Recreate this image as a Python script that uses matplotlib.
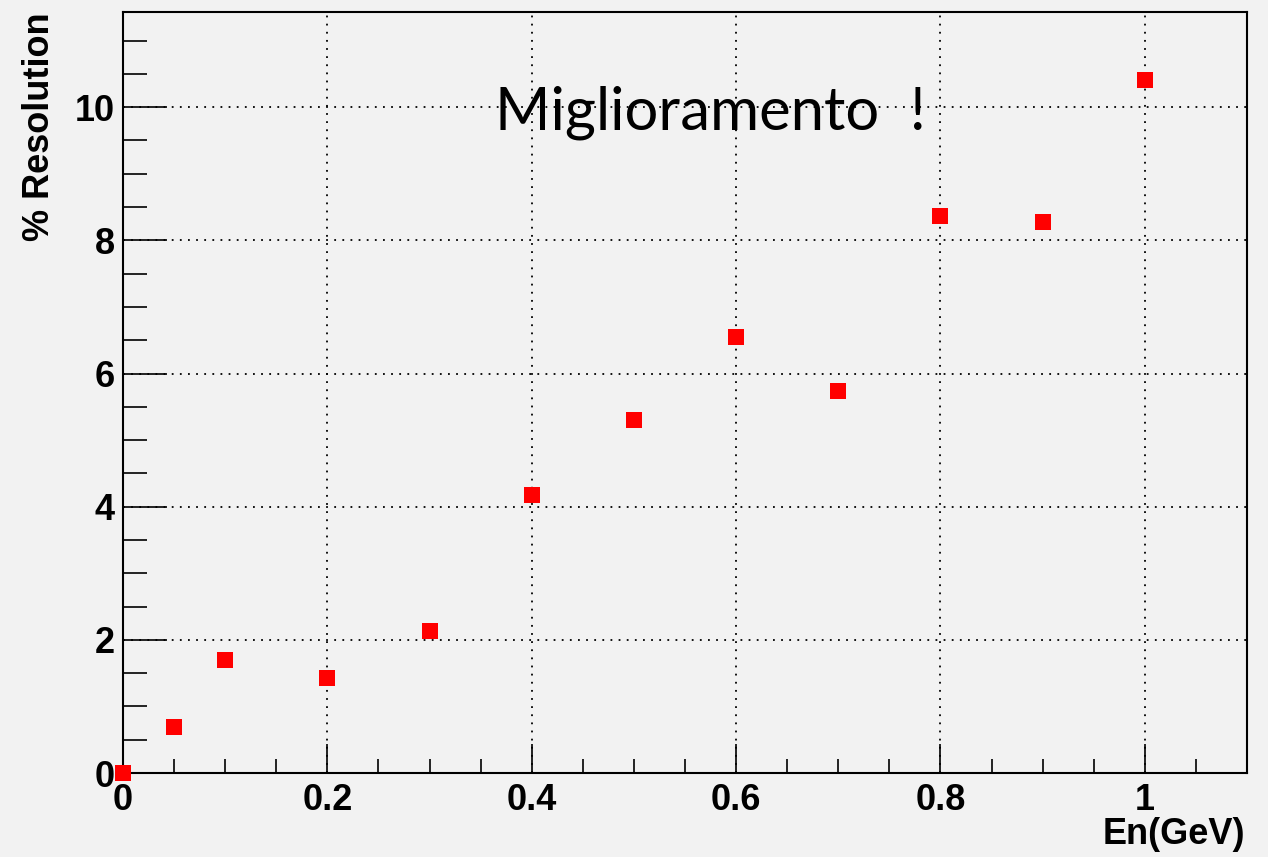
import matplotlib
matplotlib.use("Agg")
import matplotlib.pyplot as plt
from matplotlib.ticker import MultipleLocator

# energia (GeV) e risoluzione percentuale
energy = [0.0, 0.05, 0.1, 0.2, 0.3, 0.4, 0.5, 0.6, 0.7, 0.8, 0.9, 1.0]
resolution = [0.0, 0.69, 1.70, 1.43, 2.13, 4.17, 5.30, 6.55, 5.74, 8.36, 8.27, 10.41]

bg = '#f2f2f2'
fig = plt.figure(figsize=(12.68, 8.57), dpi=100, facecolor=bg)
ax = fig.add_axes([0.097, 0.098, 0.8864, 0.888], facecolor=bg)

ax.plot(energy, resolution, 's', color='#ff0000', markersize=11, markeredgewidth=0, zorder=5, clip_on=False)

ax.set_xlim(0, 1.1)
ax.set_ylim(0, 11.43)

ax.xaxis.set_major_locator(MultipleLocator(0.2))
ax.xaxis.set_minor_locator(MultipleLocator(0.05))
ax.yaxis.set_major_locator(MultipleLocator(2))
ax.yaxis.set_minor_locator(MultipleLocator(0.5))
ax.xaxis.set_major_formatter(plt.FuncFormatter(lambda v, p: f'{v:g}'))

ax.tick_params(which='both', direction='in', top=False, right=False, width=1.2, colors='black')
ax.tick_params(axis='y', which='major', length=32, pad=6)
ax.tick_params(axis='y', which='minor', length=17)
ax.tick_params(axis='x', which='major', length=21, pad=7)
ax.tick_params(axis='x', which='minor', length=10)

for lab in ax.get_xticklabels() + ax.get_yticklabels():
    lab.set_fontfamily('Liberation Sans')
    lab.set_fontweight('bold')
    lab.set_fontsize(26)

for s in ax.spines.values():
    s.set_linewidth(1.5)

ax.grid(True, which='major', linestyle=(0, (1, 3.5)), color='black', linewidth=1.3)

ax.set_xlabel('En(GeV)', fontfamily='Liberation Sans', fontweight='bold', fontsize=26)
ax.xaxis.set_label_coords(0.9985, -0.058)
ax.xaxis.label.set_horizontalalignment('right')
ax.set_ylabel('% Resolution', fontfamily='Liberation Sans', fontweight='bold', fontsize=26)
ax.yaxis.set_label_coords(-0.0585, 1.0)
ax.yaxis.label.set_horizontalalignment('right')

ax.text(0.364, 9.92, 'Miglioramento  !', fontfamily='Lato', fontsize=43, color='black', ha='left', va='center')

fig.savefig('out.png', dpi=100, facecolor=bg)
